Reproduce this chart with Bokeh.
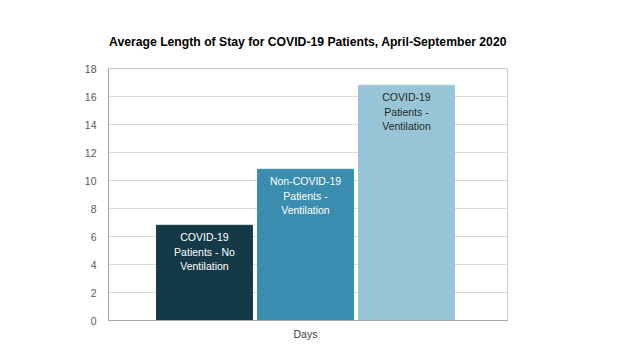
from bokeh.plotting import figure
from bokeh.models import ColumnDataSource, Range1d, FixedTicker
from bokeh.core.properties import value
from bokeh.embed import file_html
from bokeh.resources import INLINE

categories = ["COVID-19\nPatients - No\nVentilation",
              "Non-COVID-19\nPatients -\nVentilation",
              "COVID-19\nPatients -\nVentilation"]
values = [6.8, 10.8, 16.8]
colors = ["#143a48", "#3a8dae", "#98c6d8"]
text_colors = ["#ffffff", "#ffffff", "#262626"]
positions = [1, 2, 3]
y_ticks = [0, 2, 4, 6, 8, 10, 12, 14, 16, 18]

src = ColumnDataSource(dict(x=positions, top=values, label=categories,
                            color=colors, tcolor=text_colors))

p = figure(width=624, height=352, output_backend="svg", toolbar_location=None,
           x_range=Range1d(0.05, 4.0), y_range=Range1d(0, 18),
           min_border_left=108, min_border_right=117,
           min_border_top=68, min_border_bottom=32)

p.vbar(x="x", top="top", width=0.95, bottom=0, color="color", source=src)
p.text(x="x", y="top", text="label", source=src, text_align="center",
       text_baseline="top", y_offset=6, text_color="tcolor",
       text_font=value("Liberation Sans"), text_font_size="10.5px",
       text_line_height=1.2)

p.title.text = "Average Length of Stay for COVID-19 Patients, April-September 2020"
p.title.align = "center"
p.title.text_font = "Liberation Sans"
p.title.text_font_size = "12.2px"
p.title.text_font_style = "bold"
p.title.text_color = "#000000"
p.title.standoff = 40

p.yaxis.ticker = FixedTicker(ticks=y_ticks)
p.yaxis.major_tick_line_color = None
p.yaxis.minor_tick_line_color = None
p.yaxis.axis_line_color = "#a6a6a6"
p.yaxis.major_label_text_font = "Liberation Sans"
p.yaxis.major_label_text_font_size = "10.5px"
p.yaxis.major_label_text_color = "#595959"
p.yaxis.major_label_standoff = 6

p.xaxis.ticker = FixedTicker(ticks=[2])
p.xaxis.major_label_overrides = {2: "Days"}
p.xaxis.major_tick_line_color = None
p.xaxis.minor_tick_line_color = None
p.xaxis.axis_line_color = "#a6a6a6"
p.xaxis.major_label_text_font = "Liberation Sans"
p.xaxis.major_label_text_font_size = "10.5px"
p.xaxis.major_label_text_color = "#404040"
p.xaxis.major_label_standoff = 1

p.xgrid.grid_line_color = None
p.ygrid.grid_line_color = "#d9d9d9"
p.outline_line_color = "#c8c8c8"

open("out.html", "w").write(file_html(p, INLINE))
